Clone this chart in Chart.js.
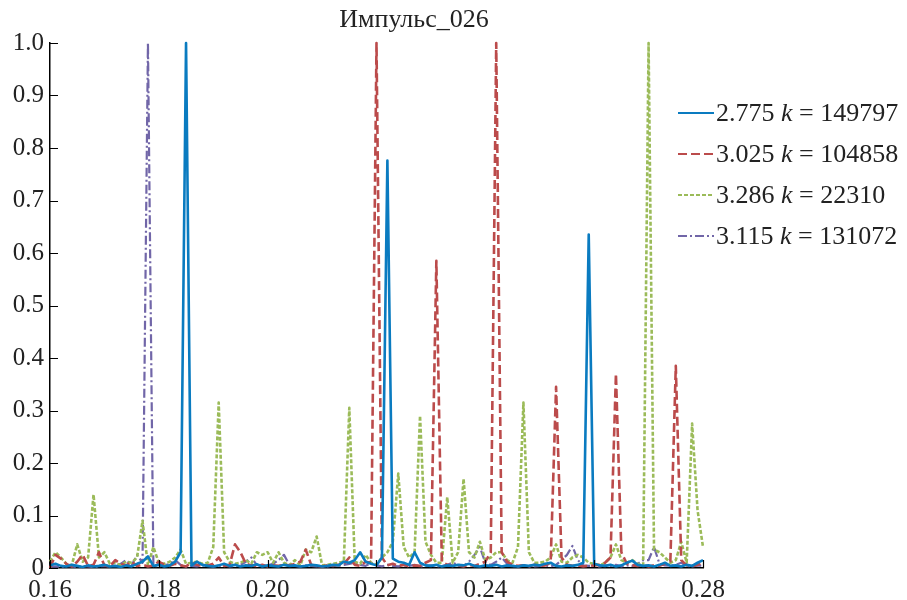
<!DOCTYPE html>
<html>
<head>
<meta charset="utf-8">
<title>Импульс_026</title>
<script src="https://cdn.jsdelivr.net/npm/chart.js@4.4.1/dist/chart.umd.min.js"></script>
<style>
  html, body { margin: 0; padding: 0; background: #fff; }
</style>
</head>
<body>
<canvas id="canvas" width="907" height="600"></canvas>
<script>
// frequency grid, step 0.001
var freq = [
  0.160, 0.161, 0.162, 0.163, 0.164, 0.165, 0.166, 0.167, 0.168, 0.169,
  0.170, 0.171, 0.172, 0.173, 0.174, 0.175, 0.176, 0.177, 0.178, 0.179,
  0.180, 0.181, 0.182, 0.183, 0.184, 0.185, 0.186, 0.187, 0.188, 0.189,
  0.190, 0.191, 0.192, 0.193, 0.194, 0.195, 0.196, 0.197, 0.198, 0.199,
  0.200, 0.201, 0.202, 0.203, 0.204, 0.205, 0.206, 0.207, 0.208, 0.209,
  0.210, 0.211, 0.212, 0.213, 0.214, 0.215, 0.216, 0.217, 0.218, 0.219,
  0.220, 0.221, 0.222, 0.223, 0.224, 0.225, 0.226, 0.227, 0.228, 0.229,
  0.230, 0.231, 0.232, 0.233, 0.234, 0.235, 0.236, 0.237, 0.238, 0.239,
  0.240, 0.241, 0.242, 0.243, 0.244, 0.245, 0.246, 0.247, 0.248, 0.249,
  0.250, 0.251, 0.252, 0.253, 0.254, 0.255, 0.256, 0.257, 0.258, 0.259,
  0.260, 0.261, 0.262, 0.263, 0.264, 0.265, 0.266, 0.267, 0.268, 0.269,
  0.270, 0.271, 0.272, 0.273, 0.274, 0.275, 0.276, 0.277, 0.278, 0.279,
  0.280
];

// 2.775, k = 149797
var amp1 = [
  0.005, 0.008, 0.004, 0.003, 0.006, 0.004, 0.002, 0.005, 0.003, 0.004,
  0.006, 0.003, 0.004, 0.002, 0.005, 0.003, 0.008, 0.012, 0.022, 0.004,
  0.006, 0.003, 0.005, 0.012, 0.030, 1.000, 0.005, 0.012, 0.006, 0.004,
  0.003, 0.005, 0.008, 0.004, 0.006, 0.003, 0.005, 0.004, 0.007, 0.003,
  0.005, 0.004, 0.003, 0.006, 0.004, 0.005, 0.003, 0.004, 0.006, 0.005,
  0.003, 0.004, 0.006, 0.005, 0.012, 0.010, 0.015, 0.030, 0.012, 0.008,
  0.005, 0.020, 0.776, 0.018, 0.012, 0.010, 0.006, 0.030, 0.010, 0.005,
  0.004, 0.006, 0.003, 0.005, 0.004, 0.006, 0.005, 0.008, 0.004, 0.003,
  0.005, 0.004, 0.006, 0.003, 0.005, 0.004, 0.003, 0.005, 0.004, 0.006,
  0.005, 0.008, 0.010, 0.004, 0.003, 0.005, 0.004, 0.006, 0.010, 0.635,
  0.008, 0.005, 0.004, 0.006, 0.003, 0.005, 0.010, 0.014, 0.006, 0.004,
  0.005, 0.003, 0.006, 0.010, 0.004, 0.005, 0.003, 0.006, 0.004, 0.010,
  0.015
];

// 3.025, k = 104858
var amp2 = [
  0.000, 0.025, 0.018, 0.008, 0.003, 0.012, 0.025, 0.004, 0.006, 0.030,
  0.005, 0.003, 0.015, 0.008, 0.005, 0.012, 0.004, 0.006, 0.003, 0.005,
  0.012, 0.006, 0.004, 0.008, 0.005, 0.003, 0.010, 0.006, 0.004, 0.005,
  0.008, 0.020, 0.004, 0.006, 0.045, 0.030, 0.008, 0.005, 0.004, 0.006,
  0.003, 0.005, 0.004, 0.006, 0.005, 0.008, 0.012, 0.035, 0.006, 0.004,
  0.003, 0.005, 0.004, 0.006, 0.008, 0.020, 0.006, 0.004, 0.012, 0.010,
  1.000, 0.020, 0.005, 0.008, 0.004, 0.006, 0.003, 0.005, 0.004, 0.010,
  0.015, 0.585, 0.012, 0.006, 0.004, 0.005, 0.003, 0.006, 0.004, 0.008,
  0.012, 0.030, 1.000, 0.030, 0.012, 0.006, 0.004, 0.005, 0.003, 0.006,
  0.004, 0.005, 0.010, 0.345, 0.020, 0.006, 0.004, 0.005, 0.003, 0.004,
  0.005, 0.006, 0.010, 0.020, 0.370, 0.030, 0.008, 0.005, 0.004, 0.006,
  0.003, 0.005, 0.004, 0.008, 0.012, 0.385, 0.015, 0.005, 0.004, 0.006,
  0.010
];

// 3.286, k = 22310
var amp3 = [
  0.012, 0.030, 0.020, 0.008, 0.005, 0.045, 0.012, 0.020, 0.140, 0.020,
  0.030, 0.008, 0.010, 0.005, 0.012, 0.010, 0.020, 0.090, 0.005, 0.040,
  0.010, 0.008, 0.012, 0.020, 0.035, 0.008, 0.010, 0.012, 0.008, 0.010,
  0.040, 0.315, 0.030, 0.012, 0.008, 0.010, 0.015, 0.008, 0.030, 0.025,
  0.030, 0.010, 0.030, 0.010, 0.005, 0.015, 0.005, 0.035, 0.030, 0.060,
  0.005, 0.006, 0.008, 0.010, 0.012, 0.305, 0.012, 0.008, 0.025, 0.010,
  0.006, 0.020, 0.030, 0.050, 0.180, 0.040, 0.020, 0.030, 0.290, 0.050,
  0.025, 0.010, 0.010, 0.135, 0.010, 0.030, 0.170, 0.030, 0.020, 0.050,
  0.015, 0.020, 0.030, 0.030, 0.015, 0.010, 0.040, 0.315, 0.030, 0.010,
  0.010, 0.012, 0.020, 0.045, 0.012, 0.010, 0.020, 0.025, 0.020, 0.010,
  0.008, 0.005, 0.010, 0.020, 0.045, 0.015, 0.010, 0.015, 0.008, 0.005,
  1.000, 0.035, 0.030, 0.020, 0.010, 0.015, 0.050, 0.010, 0.275, 0.110,
  0.040
];

// 3.115, k = 131072
var amp4 = [
  0.002, 0.003, 0.002, 0.004, 0.003, 0.002, 0.004, 0.003, 0.002, 0.003,
  0.004, 0.003, 0.005, 0.008, 0.015, 0.005, 0.025, 0.010, 1.000, 0.004,
  0.003, 0.005, 0.008, 0.015, 0.006, 0.003, 0.004, 0.003, 0.005, 0.004,
  0.003, 0.004, 0.005, 0.003, 0.004, 0.006, 0.012, 0.020, 0.006, 0.004,
  0.005, 0.008, 0.015, 0.025, 0.006, 0.004, 0.003, 0.005, 0.004, 0.003,
  0.004, 0.003, 0.005, 0.004, 0.006, 0.008, 0.010, 0.006, 0.004, 0.010,
  0.005, 0.003, 0.006, 0.004, 0.003, 0.005, 0.004, 0.006, 0.003, 0.004,
  0.005, 0.003, 0.004, 0.006, 0.010, 0.006, 0.004, 0.012, 0.025, 0.040,
  0.010, 0.006, 0.012, 0.020, 0.008, 0.004, 0.003, 0.005, 0.004, 0.003,
  0.004, 0.005, 0.003, 0.006, 0.015, 0.025, 0.042, 0.015, 0.005, 0.004,
  0.004, 0.003, 0.005, 0.004, 0.006, 0.003, 0.005, 0.004, 0.008, 0.015,
  0.015, 0.040, 0.008, 0.005, 0.004, 0.006, 0.010, 0.004, 0.003, 0.005,
  0.004
];

var legendPrefix = ['2.775', '3.025', '3.286', '3.115'];
var legendK = ['149797', '104858', '22310', '131072'];
var colors = ['#0a7bc0', '#bb4b4b', '#9bbb59', '#7166a8'];
var dashes = [[], [9, 4], [4, 2], [9, 3, 2, 3]];
var xTicks = [0.16, 0.18, 0.20, 0.22, 0.24, 0.26, 0.28];
var yTicks = [0, 0.1, 0.2, 0.3, 0.4, 0.5, 0.6, 0.7, 0.8, 0.9, 1.0];

var FONT = "'Liberation Serif', 'Times New Roman', serif";

function pts(arr) {
  return arr.map(function (v, i) { return { x: freq[i], y: v }; });
}

var amps = [amp1, amp2, amp3, amp4];
var datasets = amps.map(function (a, i) {
  return {
    label: legendPrefix[i] + ' k = ' + legendK[i],
    data: pts(a),
    borderColor: colors[i],
    borderWidth: i === 3 ? 2.2 : 2.6,
    borderDash: dashes[i],
    borderJoinStyle: 'round',
    pointRadius: 0,
    tension: 0,
    fill: false,
    clip: false
  };
});

// title, legend with italic k, and inward tick marks
var decorations = {
  id: 'decorations',
  afterDraw: function (chart) {
    var c = chart.ctx;
    var xs = chart.scales.x, ys = chart.scales.y;
    c.save();

    c.strokeStyle = '#000';
    c.lineWidth = 1.2;
    c.beginPath();
    yTicks.forEach(function (t) {
      var py = Math.round(ys.getPixelForValue(t)) + 0.5;
      c.moveTo(xs.left, py);
      c.lineTo(xs.left + 8, py);
    });
    xTicks.forEach(function (t) {
      var px = Math.round(xs.getPixelForValue(t)) + 0.5;
      c.moveTo(px, ys.bottom);
      c.lineTo(px, ys.bottom - 8);
    });
    c.stroke();

    c.fillStyle = '#222';
    c.textBaseline = 'alphabetic';
    c.textAlign = 'center';
    c.font = '26px ' + FONT;
    c.fillText('Импульс_026', 414, 27);

    c.textAlign = 'left';
    c.textBaseline = 'middle';
    for (var i = 0; i < 4; i++) {
      var y = 113 + i * 41;
      c.strokeStyle = colors[i];
      c.lineWidth = 2.2;
      c.setLineDash(dashes[i]);
      c.beginPath();
      c.moveTo(678, y);
      c.lineTo(714, y);
      c.stroke();
      c.setLineDash([]);

      var x = 716;
      var s1 = legendPrefix[i] + ' ';
      c.font = '26px ' + FONT;
      c.fillText(s1, x, y + 1);
      x += c.measureText(s1).width;
      c.font = 'italic 26px ' + FONT;
      c.fillText('k', x, y + 1);
      x += c.measureText('k').width;
      c.font = '26px ' + FONT;
      c.fillText(' = ' + legendK[i], x, y + 1);
    }
    c.restore();
  }
};

var ctx = document.getElementById('canvas').getContext('2d');
var chart = new Chart(ctx, {
  type: 'line',
  data: { datasets: datasets },
  plugins: [decorations],
  options: {
    responsive: false,
    animation: false,
    layout: { padding: { top: 43, right: 204, left: 0, bottom: 0 } },
    plugins: {
      legend: { display: false },
      title: { display: false },
      tooltip: { enabled: false }
    },
    scales: {
      x: {
        type: 'linear',
        min: 0.16,
        max: 0.28,
        afterFit: function (s) { s.height = 32; },
        afterBuildTicks: function (s) {
          s.ticks = xTicks.map(function (v) { return { value: v }; });
        },
        grid: { display: false, drawTicks: false },
        border: { display: true, color: '#000', width: 1.5 },
        ticks: {
          padding: 7,
          color: '#222',
          font: { family: FONT, size: 25 },
          maxRotation: 0,
          callback: function (v) { return v.toFixed(2); }
        }
      },
      y: {
        type: 'linear',
        min: 0,
        max: 1,
        afterFit: function (s) { s.width = 50; },
        afterBuildTicks: function (s) {
          s.ticks = yTicks.map(function (v) { return { value: v }; });
        },
        grid: { display: false, drawTicks: false },
        border: { display: true, color: '#000', width: 1.5 },
        ticks: {
          padding: 6,
          color: '#222',
          font: { family: FONT, size: 25 },
          callback: function (v) { return v === 0 ? '0' : v.toFixed(1); }
        }
      }
    }
  }
});
</script>
</body>
</html>
